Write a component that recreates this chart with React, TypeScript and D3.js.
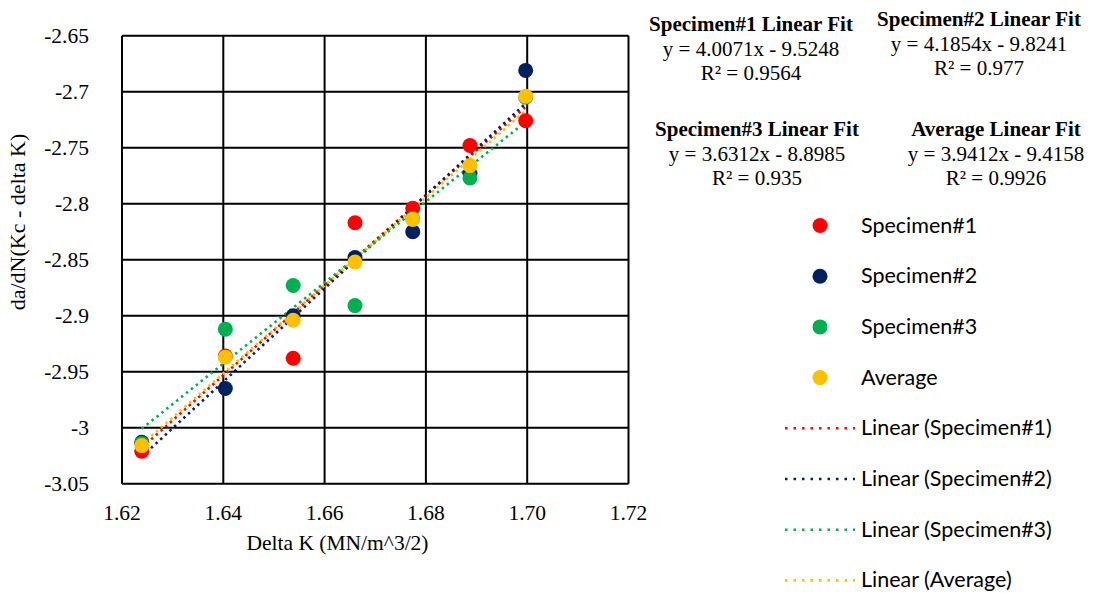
import React from "react";
import * as d3 from "d3";

const deltaK = [1.6239, 1.6404, 1.6538, 1.666, 1.6774, 1.6887, 1.6997];
const specimen1 = [-3.021, -2.936, -2.938, -2.817, -2.804, -2.748, -2.726];
const specimen2 = [-3.013, -2.965, -2.9, -2.848, -2.825, -2.773, -2.681];
const specimen3 = [-3.014, -2.912, -2.873, -2.891, -2.813, -2.777, -2.705];
const average = [-3.016, -2.937, -2.904, -2.852, -2.814, -2.766, -2.704];

const seriesNames = ["Specimen#1", "Specimen#2", "Specimen#3", "Average"];
const seriesColors = ["#FF0000", "#002060", "#00B050", "#FFC000"];
const xTicks = [1.62, 1.64, 1.66, 1.68, 1.7, 1.72];
const yTicks = [-2.65, -2.7, -2.75, -2.8, -2.85, -2.9, -2.95, -3, -3.05];
const fitTitles = ["Specimen#1 Linear Fit", "Specimen#2 Linear Fit", "Specimen#3 Linear Fit", "Average Linear Fit"];
const fitEquations = ["y = 4.0071x - 9.5248", "y = 4.1854x - 9.8241", "y = 3.6312x - 8.8985", "y = 3.9412x - 9.4158"];
const fitR2 = ["R² = 0.9564", "R² = 0.977", "R² = 0.935", "R² = 0.9926"];

const allSeries = [specimen1, specimen2, specimen3, average];

function linReg(xs: number[], ys: number[]) {
  const mx = d3.mean(xs)!;
  const my = d3.mean(ys)!;
  let num = 0, den = 0;
  xs.forEach((x, i) => { num += (x - mx) * (ys[i] - my); den += (x - mx) * (x - mx); });
  const m = num / den;
  return { m, b: my - m * mx };
}

export default function App() {
  const W = 1093, H = 593;
  const left = 122, right = 628.5, top = 35.7, bottom = 483.7;
  const x = d3.scaleLinear().domain([1.62, 1.72]).range([left, right]);
  const y = d3.scaleLinear().domain([-3.05, -2.65]).range([bottom, top]);
  const serif = "'Liberation Serif', 'Times New Roman', serif";
  const sans = "Lato, 'Open Sans', sans-serif";
  const xMin = d3.min(deltaK)!, xMax = d3.max(deltaK)!;
  const fitPos = [
    [751, 24], [979, 19], [757, 129], [996, 129],
  ];
  const legX = 820, legTextX = 861, legY0 = 225.5, legStep = 50.7;
  const dash = "2.5 3.8";
  const fs = 21.5;
  return (
    <svg width={W} height={H} style={{ position: "absolute", left: 0, top: 0, background: "#fff" }}>
      <rect x={0} y={0} width={W} height={H} fill="#fff" />
      {xTicks.map((t) => (
        <line key={"gx" + t} x1={x(t)} x2={x(t)} y1={top} y2={bottom} stroke="#000" strokeWidth={2} />
      ))}
      {yTicks.map((t) => (
        <line key={"gy" + t} x1={left} x2={right} y1={y(t)} y2={y(t)} stroke="#000" strokeWidth={2} />
      ))}
      {xTicks.map((t) => (
        <text key={"tx" + t} x={x(t)} y={y(-3.05) + 36} textAnchor="middle" fontFamily={serif} fontSize={fs} fill="#000">
          {t.toFixed(2)}
        </text>
      ))}
      {yTicks.map((t) => (
        <text key={"ty" + t} x={89} y={y(t) + 7} textAnchor="end" fontFamily={serif} fontSize={fs} fill="#000">
          {String(t)}
        </text>
      ))}
      <text x={337.5} y={550} textAnchor="middle" fontFamily={serif} fontSize={fs} fill="#000">
        Delta K (MN/m^3/2)
      </text>
      <text transform={`translate(25, ${222}) rotate(-90)`} textAnchor="middle" fontFamily={serif} fontSize={22} fill="#000">
        da/dN(Kc - delta K)
      </text>
      {allSeries.map((ys, si) => {
        const { m, b } = linReg(deltaK, ys);
        return (
          <line key={"fit" + si} x1={x(xMin)} y1={y(m * xMin + b)} x2={x(xMax)} y2={y(m * xMax + b)}
            stroke={seriesColors[si]} strokeWidth={2.6} strokeDasharray={dash} />
        );
      })}
      {allSeries.map((ys, si) => (
        <g key={"s" + si}>
          {ys.map((v, i) => (
            <circle key={i} cx={x(deltaK[i])} cy={y(v)} r={7.5} fill={seriesColors[si]} />
          ))}
        </g>
      ))}
      {fitTitles.map((t, i) => (
        <g key={"fit" + i} fontFamily={serif} fontSize={21} fill="#000" textAnchor="middle">
          <text x={fitPos[i][0]} y={fitPos[i][1] + 7} fontWeight="bold">{t}</text>
          <text x={fitPos[i][0]} y={fitPos[i][1] + 31.5}>{fitEquations[i]}</text>
          <text x={fitPos[i][0]} y={fitPos[i][1] + 56}>{fitR2[i]}</text>
        </g>
      ))}
      {seriesNames.map((n, i) => (
        <g key={"leg" + i}>
          <circle cx={legX} cy={legY0 + i * legStep} r={7.5} fill={seriesColors[i]} />
          <text x={legTextX} y={legY0 + i * legStep + 7} fontFamily={sans} fontSize={21.5} fill="#000">{n}</text>
        </g>
      ))}
      {seriesNames.map((n, i) => {
        const cy = legY0 + (i + 4) * legStep;
        return (
          <g key={"legl" + i}>
            <line x1={785} x2={855} y1={cy} y2={cy} stroke={seriesColors[i]} strokeWidth={2.6} strokeDasharray="2.5 6" />
            <text x={legTextX} y={cy + 7} fontFamily={sans} fontSize={21.5} fill="#000">{`Linear (${n})`}</text>
          </g>
        );
      })}
    </svg>
  );
}
